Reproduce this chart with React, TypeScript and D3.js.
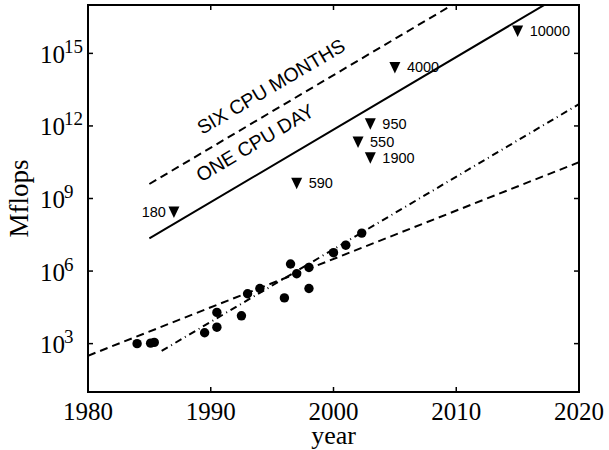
import React from "react";
import * as d3 from "d3";

// ---- data ----
const dotYears = [1984, 1985.1, 1985.4, 1989.5, 1990.5, 1990.5, 1992.5, 1993, 1994, 1996, 1996.5, 1997, 1998, 1998, 2000, 2001, 2002.3];
const dotLog10 = [3.0, 3.02, 3.05, 3.45, 3.68, 4.29, 4.15, 5.06, 5.28, 4.89, 6.29, 5.89, 6.15, 5.28, 6.76, 7.07, 7.57];

const triYears = [1987, 1997, 2002, 2003, 2003, 2005, 2015];
const triLog10 = [8.44, 9.63, 11.34, 12.09, 10.68, 14.42, 15.92];
const triLabels = ["180", "590", "550", "950", "1900", "4000", "10000"];

const oneDayYears = [1985, 2020];
const oneDayLog10 = [7.35, 17.85];
const sixMonthsYears = [1985, 2020];
const sixMonthsLog10 = [9.6, 20.1];
const trendDashYears = [1980, 2020];
const trendDashLog10 = [2.5, 10.5];
const trendDashDotYears = [1986, 2020];
const trendDashDotLog10 = [2.7, 12.9];

const xTicks = [1980, 1990, 2000, 2010, 2020];
const yTickExps = [3, 6, 9, 12, 15];

const W = 609, H = 450;
const L = 88, R = 579, T = 5, B = 392;

export default function App() {
  const x = d3.scaleLinear().domain([1980, 2020]).range([L, R]);
  const y = d3.scaleLog().domain([1e1, 1e17]).range([B, T]);
  const line = d3.line<[number, number]>().x(d => x(d[0])).y(d => y(Math.pow(10, d[1])));
  const mk = (ys: number[], ls: number[]) => line(ys.map((v, i) => [v, ls[i]] as [number, number])) || "";

  const slopePx = (y(1e10) - y(1e10 * Math.pow(10, 0.3))) / (x(1981) - x(1980));
  const angle = -Math.atan(slopePx) * 180 / Math.PI;

  const serif = "'Liberation Serif', 'Times New Roman', serif";
  const sans = "'Liberation Sans', Arial, sans-serif";

  return (
    <svg width={W} height={H} style={{ position: "absolute", left: 0, top: 0, background: "#fff" }}>
      <defs>
        <clipPath id="plotclip">
          <rect x={L} y={T} width={R - L} height={B - T} />
        </clipPath>
      </defs>
      <rect x={0} y={0} width={W} height={H} fill="#fff" />
      <g clipPath="url(#plotclip)" fill="none" stroke="#000">
        <path d={mk(oneDayYears, oneDayLog10)} strokeWidth={2} />
        <path d={mk(sixMonthsYears, sixMonthsLog10)} strokeWidth={2} strokeDasharray="8,5" />
        <path d={mk(trendDashYears, trendDashLog10)} strokeWidth={2} strokeDasharray="8,5" />
        <path d={mk(trendDashDotYears, trendDashDotLog10)} strokeWidth={2} strokeDasharray="7,4,1,4" />
      </g>
      {dotYears.map((yr, i) => (
        <circle key={"d" + i} cx={x(yr)} cy={y(Math.pow(10, dotLog10[i]))} r={4.7} fill="#000" />
      ))}
      {triYears.map((yr, i) => {
        const cx = x(yr), cy = y(Math.pow(10, triLog10[i]));
        const left = triLabels[i] === "180";
        return (
          <g key={"t" + i}>
            <path d={`M${cx - 5.5},${cy - 5.5}L${cx + 5.5},${cy - 5.5}L${cx},${cy + 6}Z`} fill="#000" />
            <text x={left ? cx - 8 : cx + 12} y={cy + 5} textAnchor={left ? "end" : "start"}
              fontFamily={sans} fontSize={14.5} fill="#000">{triLabels[i]}</text>
          </g>
        );
      })}
      <text transform={`translate(${x(1995.19)},${y(Math.pow(10, 13.39))}) rotate(${angle})`}
        textAnchor="middle" fontFamily={sans} fontSize={19.5} fill="#000">SIX CPU MONTHS</text>
      <text transform={`translate(${x(1993.88)},${y(Math.pow(10, 11.06))}) rotate(${angle})`}
        textAnchor="middle" fontFamily={sans} fontSize={19.5} fill="#000">ONE CPU DAY</text>

      {/* axes box */}
      <rect x={L} y={T} width={R - L} height={B - T} fill="none" stroke="#000" strokeWidth={2} />
      {xTicks.map(t => (
        <g key={"xt" + t}>
          <line x1={x(t)} x2={x(t)} y1={B} y2={B - 5} stroke="#000" strokeWidth={1.5} />
          <line x1={x(t)} x2={x(t)} y1={T} y2={T + 5} stroke="#000" strokeWidth={1.5} />
          <text x={x(t)} y={420} textAnchor="middle" fontFamily={serif} fontSize={25} fill="#000">{t}</text>
        </g>
      ))}
      {yTickExps.map(e => {
        const yy = y(Math.pow(10, e));
        return (
          <g key={"yt" + e}>
            <line x1={L} x2={L + 5} y1={yy} y2={yy} stroke="#000" strokeWidth={1.5} />
            <line x1={R} x2={R - 5} y1={yy} y2={yy} stroke="#000" strokeWidth={1.5} />
            <text x={40} y={yy + 9.5} fontFamily={serif} fontSize={25} fill="#000">
              10<tspan dx={-1} dy={-10} fontSize={19}>{e}</tspan>
            </text>
          </g>
        );
      })}
      <text x={(L + R) / 2} y={444} textAnchor="middle" fontFamily={serif} fontSize={26} fill="#000">year</text>
      <text transform={`translate(28,${(T + B) / 2}) rotate(-90)`} textAnchor="middle" fontFamily={serif} fontSize={27} fill="#000">Mflops</text>
    </svg>
  );
}
